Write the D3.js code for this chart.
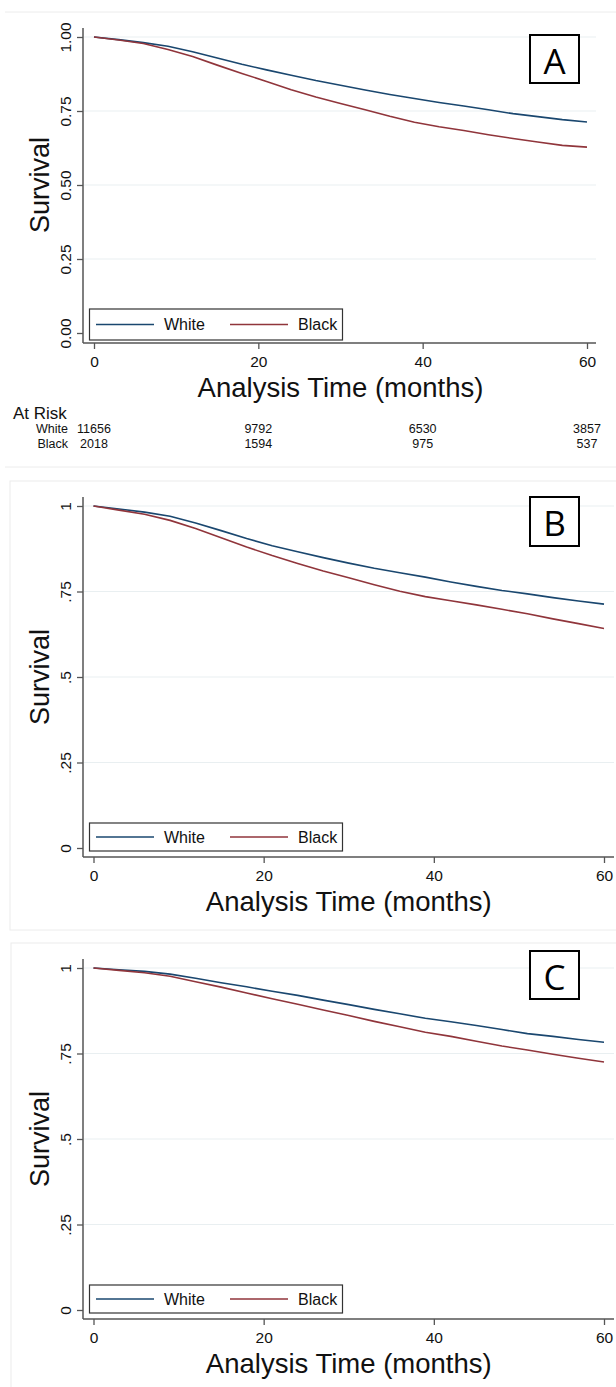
<!DOCTYPE html>
<html><head><meta charset="utf-8">
<script src="https://cdn.jsdelivr.net/npm/d3@7"></script>
<style>body{margin:0;background:#fff}svg{display:block}</style>
</head><body>
<svg id="c" width="616" height="1387"></svg>
<script>
const months = [0,3,6,9,12,15,18,21,24,27,30,33,36,39,42,45,48,51,54,57,60];
const groups = ["White","Black"];
const aWhite = [1.000,0.991,0.981,0.969,0.950,0.929,0.908,0.889,0.871,0.853,0.837,0.821,0.806,0.792,0.779,0.767,0.754,0.741,0.731,0.721,0.713];
const aBlack = [1.000,0.990,0.978,0.958,0.934,0.905,0.877,0.850,0.822,0.797,0.775,0.754,0.732,0.712,0.697,0.684,0.670,0.657,0.645,0.634,0.628];
const bWhite = [1.000,0.991,0.982,0.970,0.950,0.928,0.905,0.884,0.866,0.849,0.833,0.818,0.805,0.792,0.778,0.765,0.753,0.743,0.732,0.722,0.713];
const bBlack = [1.000,0.988,0.976,0.958,0.934,0.907,0.880,0.855,0.832,0.810,0.790,0.770,0.751,0.735,0.723,0.711,0.698,0.685,0.670,0.656,0.642];
const cWhite = [1.000,0.995,0.990,0.982,0.970,0.957,0.945,0.932,0.920,0.906,0.893,0.879,0.866,0.853,0.843,0.832,0.820,0.808,0.800,0.791,0.783];
const cBlack = [1.000,0.993,0.986,0.976,0.960,0.944,0.927,0.910,0.894,0.877,0.861,0.844,0.828,0.812,0.800,0.786,0.772,0.760,0.748,0.736,0.725];
const xTicks = [0,20,40,60];
const yTicks = [0,0.25,0.5,0.75,1];
const yLabelsA = ["0.00","0.25","0.50","0.75","1.00"];
const yLabelsBC = ["0",".25",".5",".75","1"];
const riskTimes = [0,20,40,60];
const riskWhite = [11656,9792,6530,3857];
const riskBlack = [2018,1594,975,537];
const panelLetters = ["A","B","C"];

const colors = ["#1a476f","#90353b"];
const FONT = "'Liberation Sans', Arial, Helvetica, sans-serif";
const svg = d3.select("#c");

svg.append("line").attr("x1",5).attr("x2",616).attr("y1",12).attr("y2",12).attr("stroke","#ececec");
svg.append("line").attr("x1",5).attr("x2",616).attr("y1",467).attr("y2",467).attr("stroke","#ececec");
svg.append("rect").attr("x",10).attr("y",481).attr("width",620).attr("height",449).attr("fill","none").attr("stroke","#ececec");
svg.append("rect").attr("x",11).attr("y",943).attr("width",620).attr("height",460).attr("fill","none").attr("stroke","#ececec");

const panels = [
  {letter:panelLetters[0], data:[aWhite,aBlack], ylab:yLabelsA, axX:83, x0:94, x1:587, xEnd:596, yTop:37, yBot:333, axY:343, axTop:28,
   legY:309, legH:31, box:[530,35,49,48]},
  {letter:panelLetters[1], data:[bWhite,bBlack], ylab:yLabelsBC, axX:83, x0:93.5, x1:604, xEnd:614, yTop:506, yBot:848, axY:857, axTop:497,
   legY:823, legH:28, box:[530,497,49,49]},
  {letter:panelLetters[2], data:[cWhite,cBlack], ylab:yLabelsBC, axX:83, x0:93.5, x1:604, xEnd:614, yTop:968, yBot:1310, axY:1319, axTop:959,
   legY:1285, legH:28, box:[530,951,49,48]}
];

panels.forEach(p => {
  const g = svg.append("g");
  const x = d3.scaleLinear().domain([0,60]).range([p.x0,p.x1]);
  const y = d3.scaleLinear().domain([0,1]).range([p.yBot,p.yTop]);
  g.selectAll(".grid").data(yTicks.filter(t=>t>0)).join("line")
    .attr("x1",p.axX+1).attr("x2",p.xEnd).attr("y1",d=>y(d)).attr("y2",d=>y(d))
    .attr("stroke","#e9eff1").attr("stroke-width",1.2);
  const line = d3.line().x((d,i)=>x(months[i])).y(d=>y(d));
  p.data.forEach((s,k)=>{
    g.append("path").datum(s).attr("d",line).attr("fill","none")
      .attr("stroke",colors[k]).attr("stroke-width",1.6).attr("stroke-linejoin","round");
  });
  const yAxis = d3.axisLeft(y).tickValues(yTicks).tickSize(6).tickFormat((d,i)=>p.ylab[i]);
  const ya = g.append("g").attr("transform",`translate(${p.axX},0)`).call(yAxis);
  ya.select(".domain").remove();
  ya.selectAll(".tick line").attr("stroke","#555").attr("stroke-width",1.3);
  ya.selectAll(".tick text").attr("font-family",FONT).attr("font-size",15.5).attr("fill","#111")
    .attr("x",null).attr("dy",null).attr("text-anchor","middle").attr("dominant-baseline","central")
    .attr("transform",`translate(-18,0) rotate(-90)`);
  g.append("line").attr("x1",p.axX).attr("x2",p.axX).attr("y1",p.axTop).attr("y2",p.axY)
    .attr("stroke","#555").attr("stroke-width",1.5);
  const xAxis = d3.axisBottom(x).tickValues(xTicks).tickSize(6).tickFormat(d3.format("d"));
  const xa = g.append("g").attr("transform",`translate(0,${p.axY})`).call(xAxis);
  xa.select(".domain").remove();
  xa.selectAll(".tick line").attr("stroke","#555").attr("stroke-width",1.3);
  xa.selectAll(".tick text").attr("font-family",FONT).attr("font-size",15.5).attr("fill","#111")
    .attr("y",18).attr("dy",null).attr("dominant-baseline","central");
  g.append("line").attr("x1",p.axX).attr("x2",p.xEnd).attr("y1",p.axY).attr("y2",p.axY)
    .attr("stroke","#555").attr("stroke-width",1.5);
  g.append("text").attr("x",(p.x0+p.x1)/2).attr("y",p.axY+44).attr("text-anchor","middle")
    .attr("dominant-baseline","central").attr("font-family",FONT).attr("font-size",27.5).attr("fill","#111")
    .text("Analysis Time (months)");
  g.append("text").attr("transform",`translate(40,${(p.yTop+p.yBot)/2}) rotate(-90)`).attr("text-anchor","middle")
    .attr("dominant-baseline","central").attr("font-family",FONT).attr("font-size",27).attr("fill","#111")
    .text("Survival");
  const lg = g.append("g");
  lg.append("rect").attr("x",89.5).attr("y",p.legY).attr("width",253).attr("height",p.legH)
    .attr("fill","#fff").attr("stroke","#333").attr("stroke-width",1.2);
  const cy = p.legY + p.legH/2;
  const lx = [96,230];
  groups.forEach((gname,k)=>{
    lg.append("line").attr("x1",lx[k]).attr("x2",lx[k]+58).attr("y1",cy).attr("y2",cy)
      .attr("stroke",colors[k]).attr("stroke-width",1.6);
    lg.append("text").attr("x",lx[k]+68).attr("y",cy).attr("dominant-baseline","central")
      .attr("font-family",FONT).attr("font-size",16).attr("fill","#111").text(gname);
  });
  g.append("rect").attr("x",p.box[0]).attr("y",p.box[1]).attr("width",p.box[2]).attr("height",p.box[3])
    .attr("fill","#fff").attr("stroke","#000").attr("stroke-width",2);
  g.append("text").attr("x",p.box[0]+p.box[2]/2).attr("y",p.box[1]+p.box[3]/2+1).attr("text-anchor","middle")
    .attr("dominant-baseline","central").attr("font-family","'Open Sans', 'Noto Sans', sans-serif").attr("font-size",35)
    .attr("fill","#000").text(p.letter);

  if (p.letter === "A") {
    g.append("text").attr("x",13).attr("y",413).attr("dominant-baseline","central")
      .attr("font-family",FONT).attr("font-size",17).attr("fill","#111").text("At Risk");
    const rows = [riskWhite, riskBlack];
    rows.forEach((r,k)=>{
      const ry = 429 + k*15;
      g.append("text").attr("x",68).attr("y",ry).attr("text-anchor","end").attr("dominant-baseline","central")
        .attr("font-family",FONT).attr("font-size",12.5).attr("fill","#111").text(groups[k]);
      g.selectAll(null).data(r).join("text").attr("x",(d,i)=>x(riskTimes[i])).attr("y",ry)
        .attr("text-anchor","middle").attr("dominant-baseline","central")
        .attr("font-family",FONT).attr("font-size",12.5).attr("fill","#111").text(d=>d);
    });
  }
});
</script>
</body></html>
